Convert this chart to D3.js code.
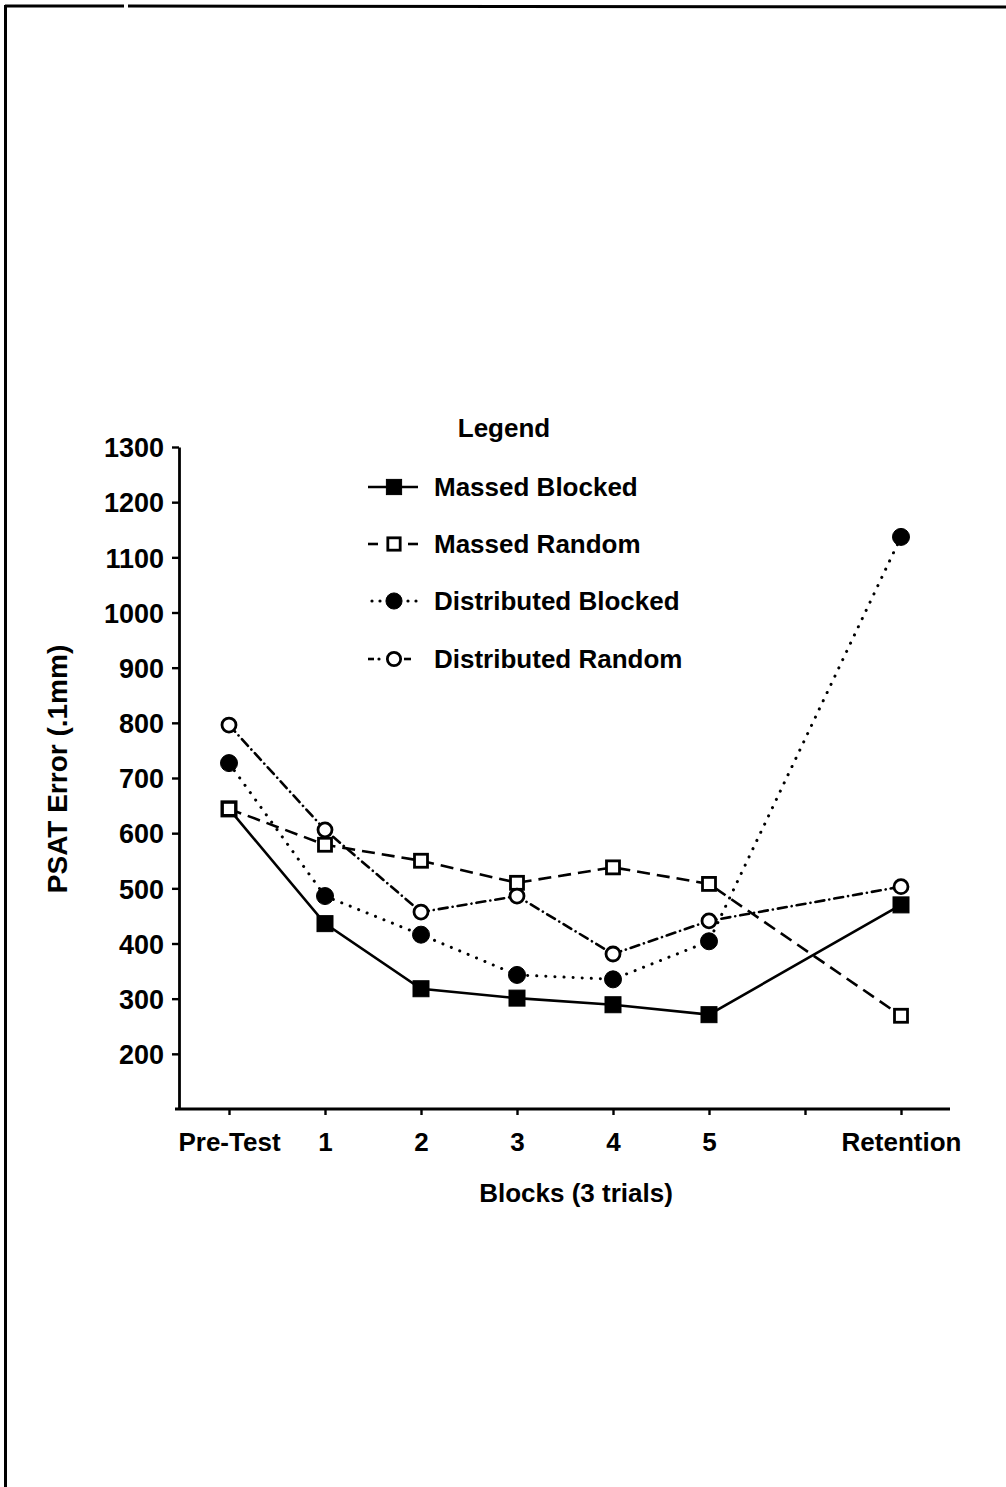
<!DOCTYPE html>
<html>
<head>
<meta charset="utf-8">
<script src="https://cdn.jsdelivr.net/npm/d3@7"></script>
<style>
  html, body { margin: 0; padding: 0; background: #fff; }
  svg { display: block; }
  text { font-family: "Liberation Sans", Arial, Helvetica, sans-serif; font-weight: bold; fill: #000; }
</style>
</head>
<body>
<svg id="chart" width="1006" height="1487"></svg>
<script>
// Blocks on the x axis ("" is an unlabelled tick between block 5 and retention)
const blocks = ["Pre-Test", "1", "2", "3", "4", "5", "", "Retention"];
const yTicks = [200, 300, 400, 500, 600, 700, 800, 900, 1000, 1100, 1200, 1300];

// PSAT error (.1mm) per group; null where there is no measurement
const massedBlocked      = [644, 436, 318, 301, 289, 271, null, 470];
const massedRandom       = [644, 579, 550, 510, 538, 508, null, 269];
const distributedBlocked = [727, 486, 416, 343, 335, 404, null, 1137];
const distributedRandom  = [796, 606, 457, 486, 381, 441, null, 503];

const groups = [
  { name: "Massed Blocked",      values: massedBlocked,      marker: "square", filled: true,  dash: null,        style: "solid" },
  { name: "Massed Random",       values: massedRandom,       marker: "square", filled: false, dash: "13,7",      style: "dash" },
  { name: "Distributed Blocked", values: distributedBlocked, marker: "circle", filled: true,  dash: "0.1,9",     style: "dot" },
  { name: "Distributed Random",  values: distributedRandom,  marker: "circle", filled: false, dash: "9,5,0.1,5", style: "dashdot" }
];

const svg = d3.select("#chart");

// Frame of the page: top and left rules
svg.append("line").attr("x1", 5).attr("x2", 124).attr("y1", 6).attr("y2", 6)
  .attr("stroke", "#000").attr("stroke-width", 3);
svg.append("line").attr("x1", 128).attr("x2", 1006).attr("y1", 6).attr("y2", 7)
  .attr("stroke", "#000").attr("stroke-width", 3);
svg.append("line").attr("x1", 5.5).attr("x2", 5.5).attr("y1", 5).attr("y2", 1487)
  .attr("stroke", "#000").attr("stroke-width", 3);

const x = d3.scalePoint().domain(d3.range(blocks.length)).range([181, 949]).padding(0.5);
const y = d3.scaleLinear().domain([100, 1300]).range([1109, 447]);

// Y axis
const yAxis = d3.axisLeft(y).tickValues(yTicks).tickFormat(d3.format("d"))
  .tickSize(7).tickPadding(8).tickSizeOuter(0);
const gy = svg.append("g").attr("transform", "translate(179,0)").call(yAxis);
gy.select(".domain").attr("stroke-width", 2.8);
gy.selectAll(".tick line").attr("stroke-width", 2.4);
gy.selectAll(".tick text").style("font-size", "27px").attr("dy", "0.36em");

// X axis
const xAxis = d3.axisBottom(x).tickFormat(i => blocks[i]).tickSize(6).tickPadding(18).tickSizeOuter(0);
const gx = svg.append("g").attr("transform", "translate(0,1109)").call(xAxis);
gx.select(".domain").attr("d", "M175,0H950").attr("stroke-width", 2.8);
gx.selectAll(".tick line").attr("stroke-width", 2.4);
gx.selectAll(".tick text").style("font-size", "26px");

// Axis titles
svg.append("text").attr("x", 576).attr("y", 1202).attr("text-anchor", "middle")
  .style("font-size", "26px").text("Blocks (3 trials)");
svg.append("text").attr("transform", "translate(67,769) rotate(-90)").attr("text-anchor", "middle")
  .style("font-size", "28px").text("PSAT Error (.1mm)");

// Series lines
const line = d3.line()
  .defined(d => d.v !== null)
  .x(d => x(d.i)).y(d => y(d.v));

function drawMarker(sel, g, cx, cy, scale) {
  const s = scale || 1;
  if (g.marker === "square") {
    const side = (g.filled ? 16 : 13) * s;
    sel.append("rect")
      .attr("x", cx - side / 2).attr("y", cy - side / 2)
      .attr("width", side).attr("height", side)
      .attr("fill", g.filled ? "#000" : "#fff")
      .attr("stroke", "#000").attr("stroke-width", g.filled ? 1 : 2.8);
  } else {
    const r = (g.filled ? 8.5 : 7) * s;
    sel.append("circle").attr("cx", cx).attr("cy", cy).attr("r", r)
      .attr("fill", g.filled ? "#000" : "#fff")
      .attr("stroke", "#000").attr("stroke-width", g.filled ? 1 : 2.8);
  }
}

groups.forEach(g => {
  const pts = g.values.map((v, i) => ({ i, v })).filter(d => d.v !== null);
  const dotted = g.style === "dot" || g.style === "dashdot";
  svg.append("path").datum(pts).attr("d", line)
    .attr("fill", "none").attr("stroke", "#000")
    .attr("stroke-width", g.style === "dot" ? 3 : 2.6)
    .attr("stroke-linecap", dotted ? "round" : "butt")
    .attr("stroke-dasharray", g.dash);
});

// Markers drawn above every line
groups.forEach(g => {
  const mg = svg.append("g");
  g.values.forEach((v, i) => {
    if (v !== null) drawMarker(mg, g, x(i), y(v));
  });
});

// Legend
svg.append("text").attr("x", 504).attr("y", 437).attr("text-anchor", "middle")
  .style("font-size", "26px").text("Legend");

const legendRows = [487, 544, 601, 659];
const mx = 394;
groups.forEach((g, k) => {
  const cy = legendRows[k];
  const lg = svg.append("g");
  const seg = (x1, x2) => lg.append("line").attr("x1", x1).attr("x2", x2)
    .attr("y1", cy).attr("y2", cy).attr("stroke", "#000").attr("stroke-width", 2.6);
  const dot = cx => lg.append("circle").attr("cx", cx).attr("cy", cy).attr("r", 1.6).attr("fill", "#000");
  if (g.style === "solid") { seg(368, 418); }
  else if (g.style === "dash") { seg(368, 378); seg(408, 418); }
  else if (g.style === "dot") { dot(372); dot(380); dot(408); dot(416); }
  else { seg(368, 374); dot(379); seg(404, 411); }
  drawMarker(lg, g, mx, cy, 0.95);
  lg.append("text").attr("x", 434).attr("y", cy).attr("dy", "0.36em")
    .style("font-size", "26px").text(g.name);
});
</script>
</body>
</html>
